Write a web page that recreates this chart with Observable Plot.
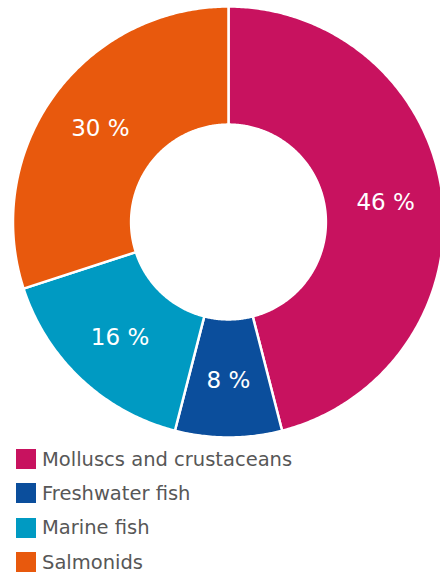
<!DOCTYPE html>
<html>
<head>
<meta charset="utf-8">
<script src="https://cdn.jsdelivr.net/npm/d3@7"></script>
<script src="https://cdn.jsdelivr.net/npm/@observablehq/plot@0.6"></script>
<style>
  html, body { margin: 0; padding: 0; background: #fff; overflow: hidden; }
  #chart svg { display: block; }
  .legend { font-family: "DejaVu Sans", sans-serif; font-size: 19.5px; color: #575757; padding-left: 16px; }
  .legend .row { display: flex; align-items: center; height: 34.3px; }
  .legend .sw { width: 20px; height: 20px; margin-right: 6px; flex: none; }
</style>
</head>
<body>
<div id="chart"></div>
<div class="legend" id="legend"></div>
<script>
const categories = ["Molluscs and crustaceans", "Freshwater fish", "Marine fish", "Salmonids"];
const shares = [46, 8, 16, 30];
const labels = ["46 %", "8 %", "16 %", "30 %"];
const colors = ["#c8125f", "#0b4e9c", "#009ac2", "#e8590d"];

const innerR = 0.452;
const outerR = 1;
const data = categories.map((c, i) => ({category: c, value: shares[i], label: labels[i]}));
const arcs = d3.pie().value(d => d.value).sort(null).startAngle(0).endAngle(2 * Math.PI)(data);

const pts = [];
for (const a of arcs) {
  const n = Math.max(8, Math.ceil((a.endAngle - a.startAngle) / 0.01));
  for (let k = 0; k <= n; k++) {
    const t = a.startAngle + (a.endAngle - a.startAngle) * k / n;
    pts.push({category: a.data.category, x: outerR * Math.sin(t), y: outerR * Math.cos(t)});
  }
  for (let k = n; k >= 0; k--) {
    const t = a.startAngle + (a.endAngle - a.startAngle) * k / n;
    pts.push({category: a.data.category, x: innerR * Math.sin(t), y: innerR * Math.cos(t)});
  }
}
const labelR = 0.735;
const labelPts = arcs.map(a => {
  const t = (a.startAngle + a.endAngle) / 2;
  return {label: a.data.label, x: labelR * Math.sin(t), y: labelR * Math.cos(t)};
});

const plot = Plot.plot({
  width: 440,
  height: 442,
  margin: 0,
  x: {domain: [-1, 1], range: [12.5, 443.5], axis: null},
  y: {domain: [-1, 1], range: [437, 6], axis: null},
  color: {domain: categories, range: colors},
  marks: [
    Plot.line(pts, {x: "x", y: "y", z: "category", fill: "category", stroke: "white", strokeWidth: 2.5, curve: "linear-closed"}),
    Plot.text(labelPts, {x: "x", y: "y", text: "label", fill: "white", fontSize: 23, fontFamily: "DejaVu Sans, sans-serif"})
  ]
});
document.getElementById("chart").appendChild(plot);

const legend = document.getElementById("legend");
categories.forEach((c, i) => {
  const row = document.createElement("div");
  row.className = "row";
  const sw = document.createElement("span");
  sw.className = "sw";
  sw.style.background = colors[i];
  const tx = document.createElement("span");
  tx.textContent = c;
  row.appendChild(sw);
  row.appendChild(tx);
  legend.appendChild(row);
});
</script>
</body>
</html>
